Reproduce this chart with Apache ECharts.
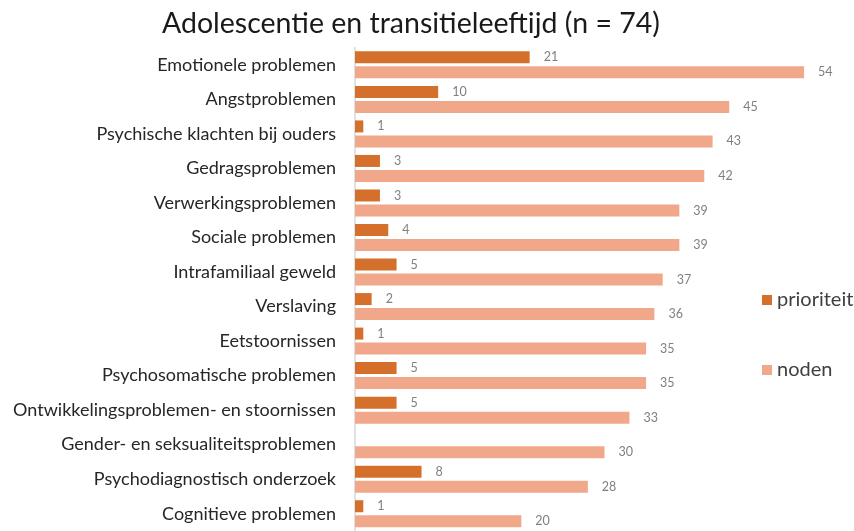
<!DOCTYPE html>
<html><head><meta charset="utf-8">
<script src="https://cdn.jsdelivr.net/npm/echarts@6/dist/echarts.min.js"></script>
<style>html,body{margin:0;padding:0;background:#fff}#c{width:854px;height:531px}</style>
</head><body><div id="c"></div>
<script>
const categories = ["Emotionele problemen","Angstproblemen","Psychische klachten bij ouders","Gedragsproblemen","Verwerkingsproblemen","Sociale problemen","Intrafamiliaal geweld","Verslaving","Eetstoornissen","Psychosomatische problemen","Ontwikkelingsproblemen- en stoornissen","Gender- en seksualiteitsproblemen","Psychodiagnostisch onderzoek","Cognitieve problemen"];
const prioriteit = [21,10,1,3,3,4,5,2,1,5,5,0,8,1];
const noden = [54,45,43,42,39,39,37,36,35,35,33,30,28,20];
const titleText = "Adolescentie en transitieleeftijd (n = 74)";

const chart = echarts.init(document.getElementById('c'));
const lbl = {show:true, position:'right', distance:14, color:'#7f7f7f', fontSize:12.5, fontFamily:'Lato',
  formatter: p => (p.value === 0 ? '' : p.value)};
chart.setOption({
  animation:false,
  title:{text:titleText, left:157, top:4,
    textStyle:{fontFamily:'Lato', fontSize:28.5, fontWeight:'normal', color:'#1a1a1a'}},
  legend:{orient:'vertical', left:757, top:285, itemGap:50, itemWidth:10, itemHeight:10, icon:'rect',
    textStyle:{fontFamily:'Lato', fontSize:20, color:'#404040'}, data:['prioriteit','noden']},
  grid:{left:355, width:502, top:47.6, bottom:-4.5, containLabel:false},
  xAxis:{type:'value', min:0, max:60, show:false},
  yAxis:{type:'category', data:categories, inverse:true,
    axisLine:{show:true, lineStyle:{color:'#d9d9d9', width:1.5}}, axisTick:{show:false},
    axisLabel:{margin:19, fontFamily:'Lato', fontSize:18, color:'#262626'}},
  series:[
    {name:'prioriteit', type:'bar', data:prioriteit, barWidth:12, barGap:'25%', itemStyle:{color:'#D4702C'}, label:lbl},
    {name:'noden', type:'bar', data:noden, barWidth:12, barGap:'25%', itemStyle:{color:'#F1A88A'}, label:lbl}
  ]
});
</script></body></html>
